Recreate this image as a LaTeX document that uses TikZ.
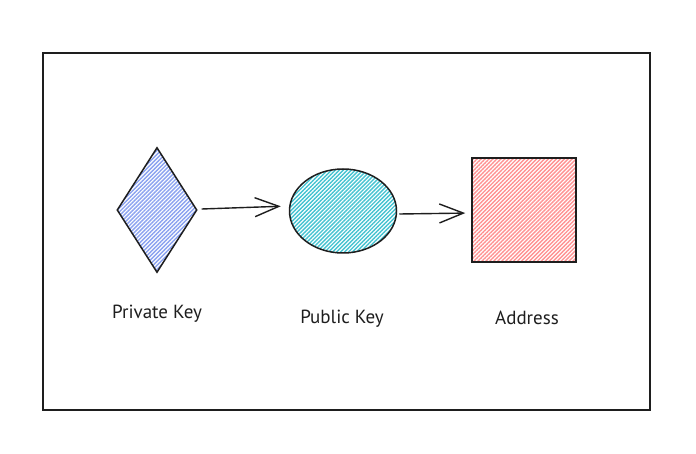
\documentclass[tikz,border=0pt]{standalone}
\usepackage{fontspec}
\setmainfont{PT Sans}
\usetikzlibrary{patterns.meta,arrows.meta,shapes.geometric}
\definecolor{ink}{HTML}{1E1E1E}
\definecolor{blueh}{HTML}{8AA2F0}
\definecolor{cyanh}{HTML}{45C3D1}
\definecolor{pinkh}{HTML}{FF9292}
\tikzset{
  shapebox/.style={draw=ink, line width=1.5pt, inner sep=0pt},
  hatch/.style={pattern={Lines[angle=45,distance=2.8pt,line width=1.4pt]}, pattern color=#1},
  conn/.style={draw=ink, line width=1.4pt, -{Straight Barb[length=24pt,width=19pt,line width=1.4pt]}},
  lbl/.style={font=\fontsize{19}{22}\selectfont, text=ink}
}
\begin{document}
\begin{tikzpicture}[x=1pt,y=-1pt]
\useasboundingbox (0,0) rectangle (696,454);
\fill[white] (0,0) rectangle (696,454);
\node[draw=ink, line width=1.3pt, minimum width=607pt, minimum height=357pt, inner sep=0pt] (frame) at (346.5,231.5) {};
\node[shapebox, diamond, shape aspect=0.64, minimum width=80pt, minimum height=125pt, hatch=blueh] (priv) at (157,210) {};
\node[shapebox, ellipse, minimum width=107pt, minimum height=84pt, hatch=cyanh] (pub) at (343,211) {};
\node[shapebox, rectangle, minimum width=104pt, minimum height=104pt, hatch=pinkh] (addr) at (524,210) {};
\draw[conn, shorten >=8pt] (priv.east) ++(4,-1) coordinate (a1s) (a1s) -- ([yshift=5pt]pub.west);
\draw[conn, shorten >=6pt] (pub.east) ++(2,3) coordinate (a2s) (a2s) -- ([yshift=-3pt]addr.west);
\node[lbl] (lpriv) at (157,314) {Private Key};
\node[lbl] (lpub) at (342,319) {Public Key};
\node[lbl] (laddr) at (527,318) {Address};
\end{tikzpicture}
\end{document}
